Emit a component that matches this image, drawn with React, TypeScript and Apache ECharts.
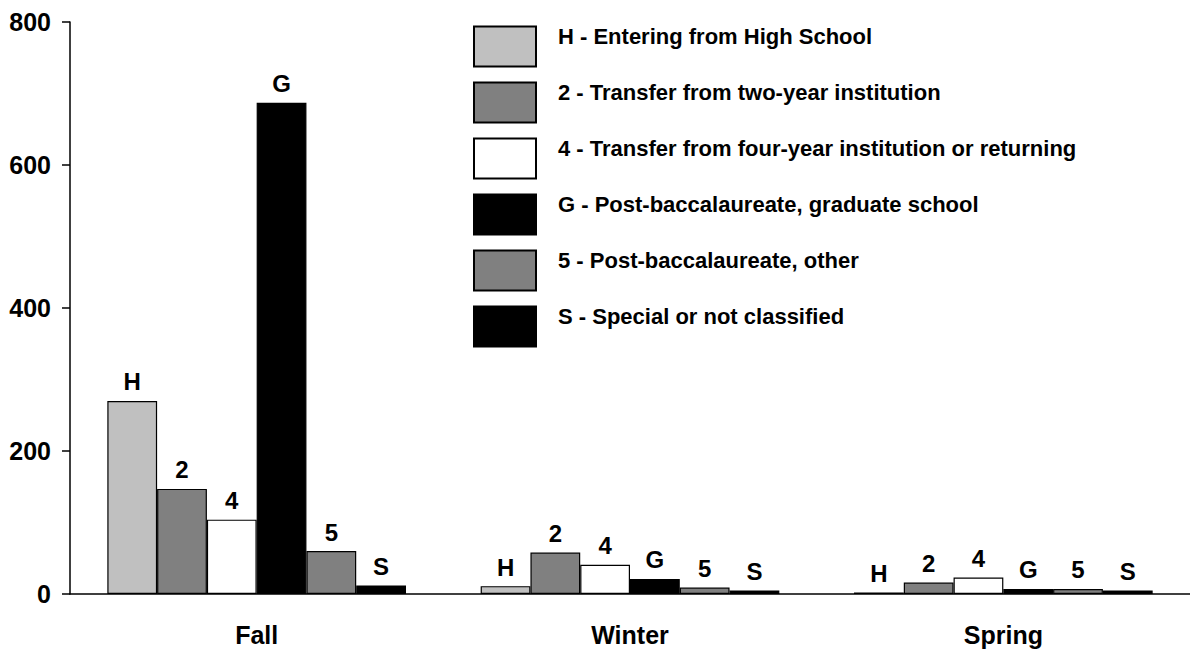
import React, { useEffect, useRef } from "react";
import * as echarts from "echarts";

const categories = ["Fall", "Winter", "Spring"];
const seriesNames = [
  "H - Entering from High School",
  "2 - Transfer from two-year institution",
  "4 - Transfer from four-year institution or returning",
  "G - Post-baccalaureate, graduate school",
  "5 - Post-baccalaureate, other",
  "S - Special or not classified",
];
const seriesCodes = ["H", "2", "4", "G", "5", "S"];
const valuesH = [270, 11, 2];
const values2 = [147, 58, 16];
const values4 = [104, 41, 23];
const valuesG = [687, 21, 7];
const values5 = [60, 9, 7];
const valuesS = [12, 5, 5];
const yTicks = [0, 200, 400, 600, 800];

const seriesValues = [valuesH, values2, values4, valuesG, values5, valuesS];
const colors = ["#C0C0C0", "#808080", "#FFFFFF", "#000000", "#808080", "#000000"];

const FONT = "'Liberation Sans', Arial, sans-serif";

export default function App() {
  const ref = useRef<HTMLDivElement>(null);
  useEffect(() => {
    if (!ref.current) return;
    const chart = echarts.init(ref.current, undefined, { renderer: "svg" });
    chart.setOption({
      animation: false,
      backgroundColor: "#ffffff",
      textStyle: { fontFamily: FONT },
      grid: { left: 70, top: 22, width: 1125, bottom: 56, containLabel: false },
      legend: {
        orient: "vertical",
        left: 473,
        top: 25,
        padding: 0,
        itemWidth: 62,
        itemHeight: 40,
        itemGap: 13,
        icon: "rect",
        selectedMode: false,
        data: seriesNames,
        formatter: "{t|{name}}",
        textStyle: {
          fontFamily: FONT,
          fontSize: 22,
          fontWeight: "bold",
          color: "#000",
          rich: {
            t: {
              fontFamily: FONT,
              fontSize: 22,
              fontWeight: "bold",
              color: "#000",
              lineHeight: 22,
              padding: [0, 0, 21, 17],
            },
          },
        },
      },
      xAxis: {
        type: "category",
        data: categories,
        axisLine: { lineStyle: { color: "#000", width: 1.5 } },
        axisTick: { show: false },
        axisLabel: {
          color: "#000",
          fontSize: 25,
          fontWeight: "bold",
          fontFamily: FONT,
          margin: 28,
        },
      },
      yAxis: {
        type: "value",
        min: yTicks[0],
        max: yTicks[yTicks.length - 1],
        interval: 200,
        axisLine: { show: true, lineStyle: { color: "#000", width: 1.5 } },
        axisTick: { show: true, length: 8, lineStyle: { color: "#000", width: 1.5 } },
        splitLine: { show: false },
        axisLabel: {
          color: "#000",
          fontSize: 25,
          fontWeight: "bold",
          fontFamily: FONT,
          margin: 19,
        },
      },
      series: seriesNames.map((name, i) => ({
        name,
        type: "bar",
        data: seriesValues[i],
        barGap: "0%",
        barCategoryGap: "20%",
        itemStyle: { color: colors[i], borderColor: "#000", borderWidth: 1.2 },
        label: {
          show: true,
          position: "top",
          distance: 7,
          formatter: () => seriesCodes[i],
          color: "#000",
          fontSize: 24,
          fontWeight: "bold",
          fontFamily: FONT,
        },
      })),
    });
    return () => chart.dispose();
  }, []);
  return (
    <div
      ref={ref}
      style={{ position: "fixed", left: 0, top: 0, width: 1190, height: 650, background: "#fff" }}
    />
  );
}
